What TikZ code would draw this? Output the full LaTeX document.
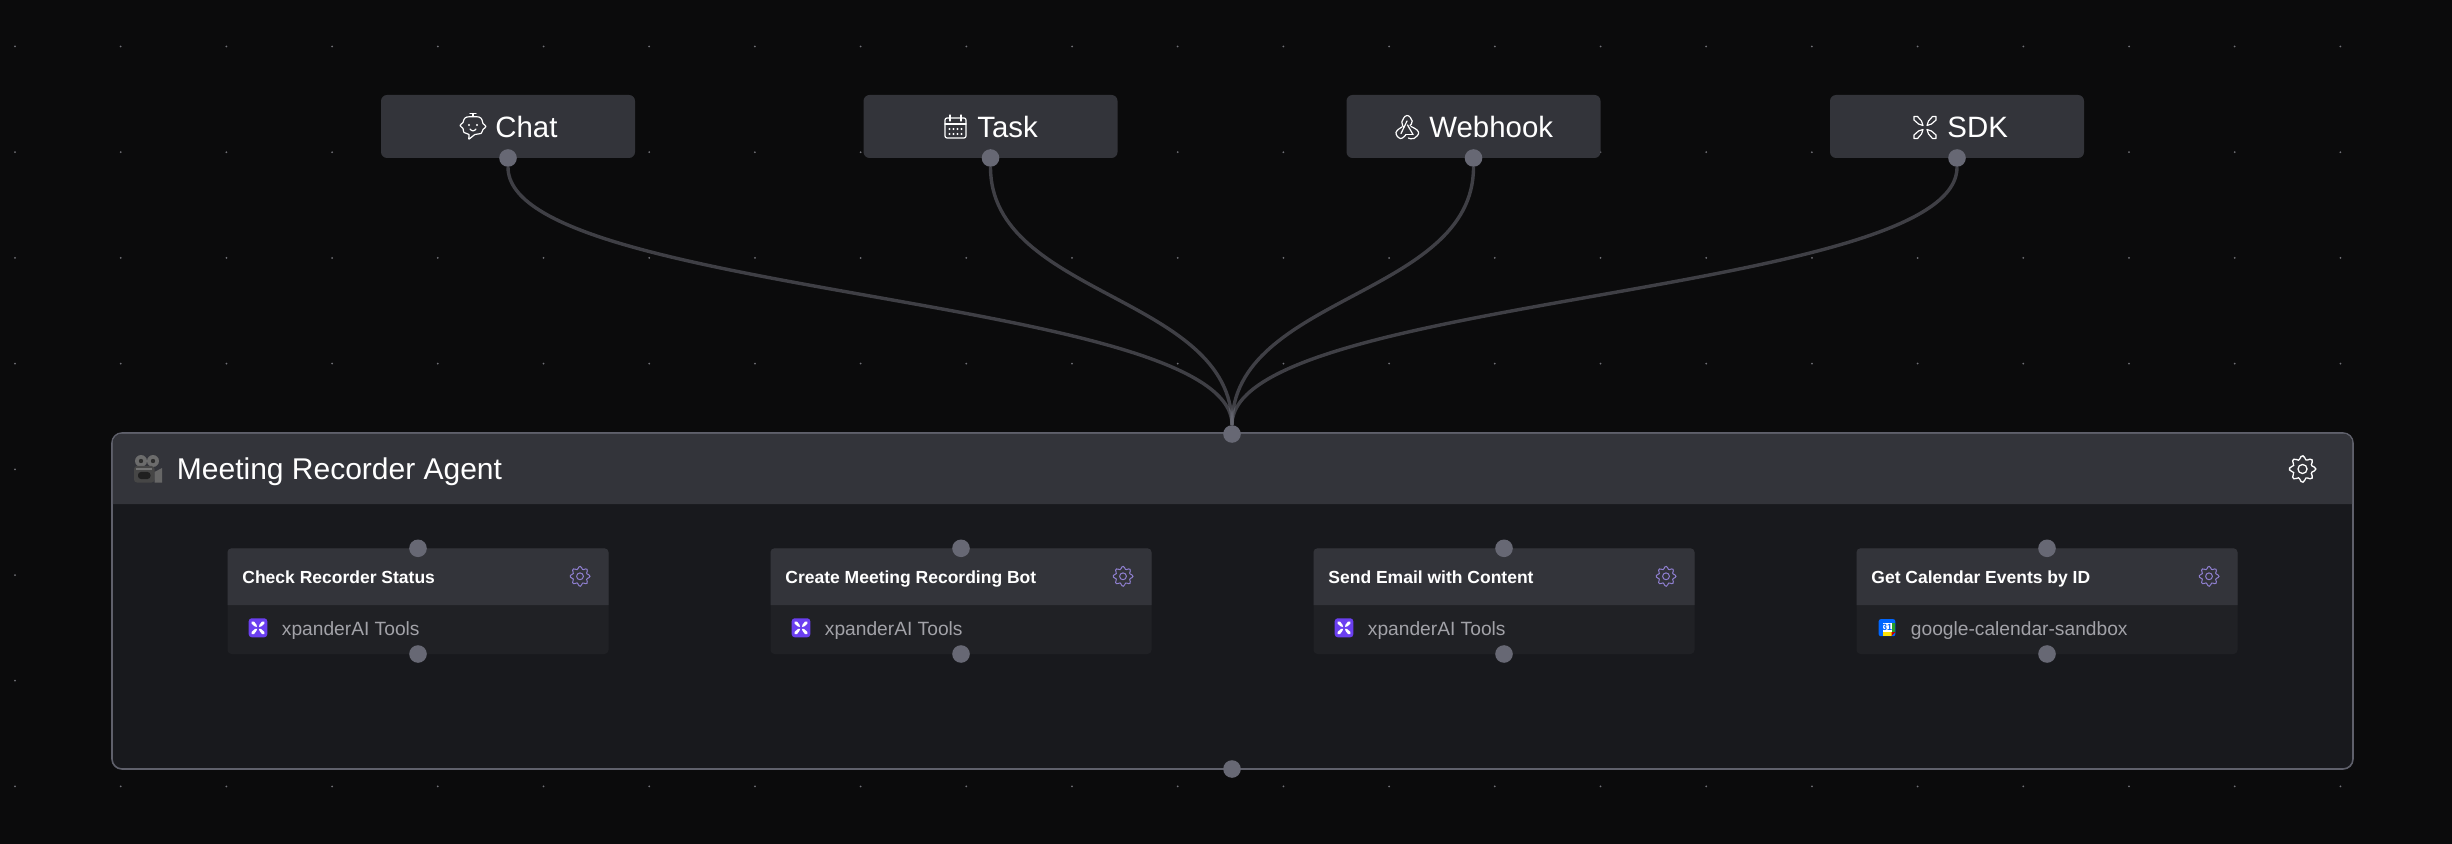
\documentclass[tikz,border=0pt]{standalone}
\usepackage{fontspec}
\setmainfont{Liberation Sans}
\definecolor{bgblack}{HTML}{0B0B0C}
\definecolor{griddot}{HTML}{707076}
\definecolor{headgray}{HTML}{33343A}
\definecolor{agentbody}{HTML}{18191D}
\definecolor{cardbody}{HTML}{202125}
\definecolor{bordergray}{HTML}{5F606B}
\definecolor{handlegray}{HTML}{676874}
\definecolor{edgegray}{HTML}{6A6B75}
\definecolor{mutedtext}{HTML}{A2A2A8}
\definecolor{gearpurple}{HTML}{8F7FD0}
\definecolor{xpurple}{HTML}{6B3FF0}

\begin{document}
\begin{tikzpicture}[
    x=0.5pt,
    y=-0.5pt,
    triggerbox/.style={
        fill=headgray,
        rounded corners=3pt,
        minimum width=127pt,
        minimum height=31.5pt
    },
    agentbox/.style={
        fill=agentbody,
        draw=bordergray,
        line width=0.8pt,
        rounded corners=5pt,
        minimum width=1120.5pt,
        minimum height=168pt
    },
    toolcard/.style={
        fill=cardbody,
        rounded corners=2pt,
        minimum width=190.5pt,
        minimum height=52.85pt
    },
    handle/.style={
        circle,
        fill=handlegray,
        minimum size=8.8pt,
        inner sep=0pt
    },
    edgeline/.style={
        draw=edgegray,
        line width=1.7pt,
        opacity=0.55
    },
    triggerlabel/.style={anchor=base west, inner sep=0pt, text=white, font=\fontsize{14.7}{16}\selectfont},
    agentlabel/.style={anchor=base west, inner sep=0pt, text=white, font=\fontsize{15}{17}\selectfont},
    toollabel/.style={anchor=base west, inner sep=0pt, text=white, font=\fontsize{8.75}{10}\selectfont\bfseries},
    sublabel/.style={anchor=base west, inner sep=0pt, text=mutedtext, font=\fontsize{9.6}{11}\selectfont},
    iconline/.style={draw=white, line width=0.6pt, line join=round, line cap=round},
    gearicon/.pic={
        \draw[pic actions] plot[smooth cycle, samples=41, domain=0:351] (\x:{10*(0.86+0.14*cos(8*\x))});
        \draw[pic actions] (0,0) circle (3.4);
    },
    chaticon/.pic={
        \draw[iconline] (-3,-13) -- (3,-13) (0,-13) -- (0,-10);
        \draw[iconline] plot[smooth cycle, tension=0.5] coordinates {(-6,-9.5) (6,-9.5) (9,-6.5) (10,-3) (13,0) (10,3) (8,7) (2,8) (-4,12.5) (-4,8) (-9,6) (-10,2) (-13,-1) (-10,-4) (-9,-7)};
        \fill[white] (-4,-1.5) circle (1.2) (4,-1.5) circle (1.2);
        \draw[iconline] (-3,2.5) .. controls (-1,5) and (1,5) .. (3,2.5);
    },
    calendaricon/.pic={
        \draw[iconline, rounded corners=1pt] (-10.5,-9) rectangle (10.5,11);
        \draw[iconline] (-10.5,-3) -- (10.5,-3);
        \draw[iconline] (-5.5,-12) -- (-5.5,-6) (5.5,-12) -- (5.5,-6);
        \foreach \dotx in {-6,-2,2,6} {
            \fill[white] (\dotx,2) circle (1.1) (\dotx,7) circle (1.1);
        }
    },
    webhookicon/.pic={
        \draw[iconline] plot[smooth, tension=0.8] coordinates {(-3,0.5) (-5.2,-5) (0,-11.5) (5.2,-6) (3,-1.5)};
        \draw[iconline] (0,-6) -- (-6,6.5);
        \draw[iconline] plot[smooth, tension=0.8] coordinates {(-5,0) (-11,5.5) (-6.5,11.5) (-1,7.5)};
        \draw[iconline] (-1,7.5) -- (6,7.5);
        \draw[iconline] (6,7.5) -- (0.5,-2);
        \draw[iconline] plot[smooth, tension=0.8] coordinates {(4,-0.5) (11.5,5) (7,11.5) (1.5,11)};
    },
    sdkicon/.pic={
        \foreach \sx/\sy in {1/1,1/-1,-1/1,-1/-1} {
            \draw[iconline, xscale=\sx, yscale=\sy] (2,2) -- (3.5,6.5) -- (7.5,11) -- (11,11) -- (11,7.5) -- (6.5,3.5) -- cycle;
        }
    },
    xpandericon/.pic={
        \fill[xpurple, rounded corners=1.5pt] (-9.3,-9.5) rectangle (9.3,9.5);
        \foreach \sx/\sy in {1/1,1/-1,-1/1,-1/-1} {
            \fill[white, xscale=\sx, yscale=\sy] (1,1) -- (1.5,3) -- (4,6.3) -- (6.3,6.3) -- (6.3,4) -- (3,1.2) -- cycle;
        }
    },
    googleicon/.pic={
        \fill[rounded corners=1pt, fill=blue!60!cyan] (-8.3,-8.5) rectangle (8.3,8.5);
        \fill[green!55!black!85!white] (4.5,-4.5) rectangle (8.3,4.5);
        \fill[yellow!85!orange] (-4.5,4.5) rectangle (4.5,8.5);
        \fill[red!75!black] (4.5,4.5) -- (8.3,4.5) -- (4.5,8.5) -- cycle;
        \fill[white] (-4.5,-4.5) rectangle (4.5,4.5);
    },
    cameraicon/.pic={
        \fill[gray!85!black] (-7,-8) circle (6);
        \fill[gray!85!black] (5,-8) circle (6);
        \fill[gray!35!black] (-7,-8) circle (2.2) (5,-8) circle (2.2);
        \fill[gray!55!black, rounded corners=1.5pt] (-14,-3) rectangle (6.5,13.5);
        \fill[gray!80!black] (6.5,3) -- (14,-1) -- (14,13.5) -- (6.5,13.5) -- cycle;
        \fill[black!75!gray, rounded corners=1.5pt] (-10,3) rectangle (2.5,10);
        \fill[gray!90!black] (-12,-1) rectangle (4,1);
    }
]

\useasboundingbox (0,0) rectangle (2452,844);
\fill[bgblack] (0,0) rectangle (2452,844);

% Grid dots
\foreach \gridx in {0,...,22} {
    \foreach \gridy in {0,...,7} {
        \fill[griddot] ({15+105.7*\gridx},{46.5+105.7*\gridy}) circle (1);
    }
}

% Triggers
\node[triggerbox] (chatbox) at (508,126.5) {};
\node[triggerbox] (taskbox) at (990.5,126.5) {};
\node[triggerbox] (webhookbox) at (1473.5,126.5) {};
\node[triggerbox] (sdkbox) at (1957,126.5) {};

\pic at (473,126.5) {chaticon};
\pic at (955.5,127) {calendaricon};
\pic at (1407,127) {webhookicon};
\pic at (1925,127.5) {sdkicon};

\node[triggerlabel] (chatlabel) at (495,137.5) {Chat};
\node[triggerlabel] (tasklabel) at (977,137.5) {Task};
\node[triggerlabel] (webhooklabel) at (1429,137.5) {Webhook};
\node[triggerlabel] (sdklabel) at (1947,137.5) {SDK};

% Agent
\node[agentbox] (agentframe) at (1232.5,601) {};
\path[fill=headgray] (112.8,504) [rounded corners=4.6pt] -- (112.8,433.8) -- (2352.2,433.8) [sharp corners] -- (2352.2,504) -- cycle;
\pic at (148,469) {cameraicon};
\node[agentlabel] (agentlabel) at (176.5,479.3) {Meeting Recorder Agent};
\pic[draw=white, line width=0.65pt, scale=1.33] at (2302.5,469) {gearicon};

% First tool
\node[toolcard] (cardone) at (418,601.2) {};
\path[fill=headgray] (227.5,605) [rounded corners=2pt] -- (227.5,548.3) -- (608.5,548.3) [sharp corners] -- (608.5,605) -- cycle;
\node[toollabel] (titleone) at (242,583.3) {Check Recorder Status};
\pic[draw=gearpurple, line width=0.5pt] at (580,576.3) {gearicon};
\pic at (258,627.8) {xpandericon};
\node[sublabel] (subone) at (281.5,635.8) {xpanderAI Tools};

% Second tool
\node[toolcard] (cardtwo) at (961,601.2) {};
\path[fill=headgray] (770.5,605) [rounded corners=2pt] -- (770.5,548.3) -- (1151.5,548.3) [sharp corners] -- (1151.5,605) -- cycle;
\node[toollabel] (titletwo) at (785,583.3) {Create Meeting Recording Bot};
\pic[draw=gearpurple, line width=0.5pt] at (1123,576.3) {gearicon};
\pic at (801,627.8) {xpandericon};
\node[sublabel] (subtwo) at (824.5,635.8) {xpanderAI Tools};

% Third tool
\node[toolcard] (cardthree) at (1504,601.2) {};
\path[fill=headgray] (1313.5,605) [rounded corners=2pt] -- (1313.5,548.3) -- (1694.5,548.3) [sharp corners] -- (1694.5,605) -- cycle;
\node[toollabel] (titlethree) at (1328,583.3) {Send Email with Content};
\pic[draw=gearpurple, line width=0.5pt] at (1666,576.3) {gearicon};
\pic at (1344,627.8) {xpandericon};
\node[sublabel] (subthree) at (1367.5,635.8) {xpanderAI Tools};

% Fourth tool
\node[toolcard] (cardfour) at (2047,601.2) {};
\path[fill=headgray] (1856.5,605) [rounded corners=2pt] -- (1856.5,548.3) -- (2237.5,548.3) [sharp corners] -- (2237.5,605) -- cycle;
\node[toollabel] (titlefour) at (1871,583.3) {Get Calendar Events by ID};
\pic[draw=gearpurple, line width=0.5pt] at (2209,576.3) {gearicon};
\pic at (1887,627.7) {googleicon};
\node[text=blue!60!cyan, inner sep=0pt, font=\fontsize{4.5}{5}\selectfont\bfseries] (calnum) at (1887,627.5) {31};
\node[sublabel] (subfour) at (1910.5,635.8) {google-calendar-sandbox};

% Handles
\node[handle] (chatout) at (508,158) {};
\node[handle] (taskout) at (990.5,158) {};
\node[handle] (webhookout) at (1473.5,158) {};
\node[handle] (sdkout) at (1957,158) {};
\node[handle] (agentin) at (1232,434) {};
\node[handle] (agentout) at (1232,769) {};
\node[handle] (onein) at (418,548.3) {};
\node[handle] (oneout) at (418,654) {};
\node[handle] (twoin) at (961,548.3) {};
\node[handle] (twoout) at (961,654) {};
\node[handle] (threein) at (1504,548.3) {};
\node[handle] (threeout) at (1504,654) {};
\node[handle] (fourin) at (2047,548.3) {};
\node[handle] (fourout) at (2047,654) {};

% Connectors
\draw[edgeline] (chatout.south) .. controls +(0,129) and +(0,-129) .. (agentin.north);
\draw[edgeline] (taskout.south) .. controls +(0,129) and +(0,-129) .. (agentin.north);
\draw[edgeline] (webhookout.south) .. controls +(0,129) and +(0,-129) .. (agentin.north);
\draw[edgeline] (sdkout.south) .. controls +(0,129) and +(0,-129) .. (agentin.north);

\end{tikzpicture}
\end{document}
